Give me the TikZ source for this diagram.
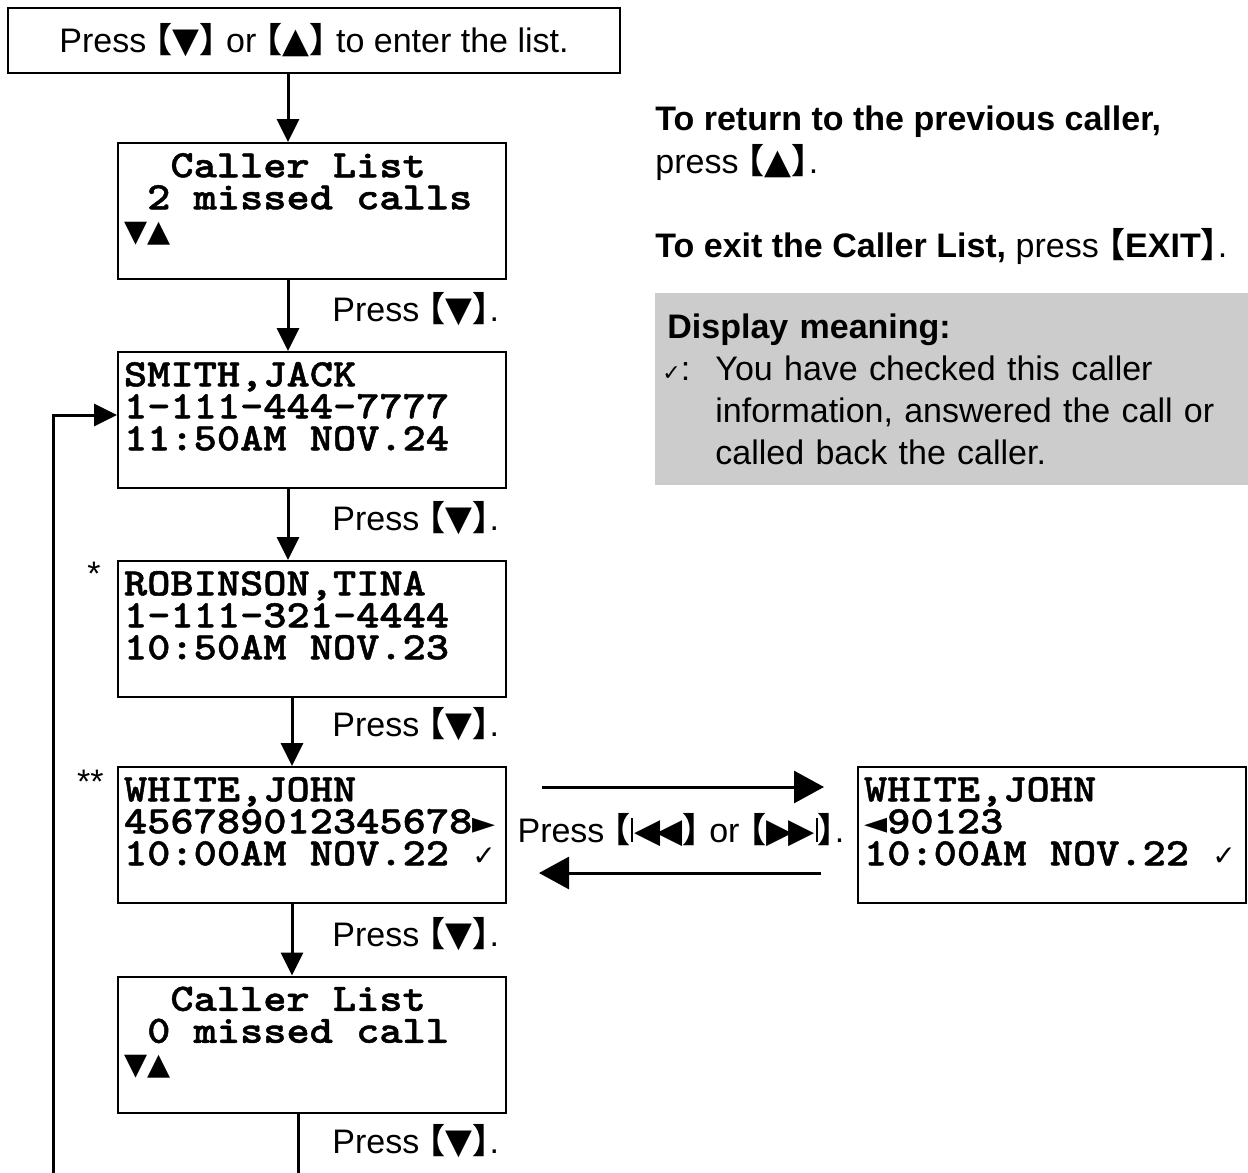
\documentclass[tikz,border=0pt]{standalone}
\usepackage{fontspec}
\setmainfont{Liberation Sans}
\newfontfamily\symfont{DejaVu Sans}
\newfontfamily\cjkfont[RawFeature=+halt]{Noto Sans CJK SC}
\newfontfamily\lcdfont[FakeStretch=1.14, FakeBold=1.2]{lmmonolt10-bold.otf}
\usetikzlibrary{positioning,arrows.meta}

% key caps and display glyphs
\newcommand{\keyb}[1]{{\cjkfont\bfseries 【}#1{\cjkfont\bfseries 】}}
\newcommand{\tri}[1]{{\symfont\fontsize{17.5}{17.5}\selectfont #1}}
\newcommand{\lcdtri}[1]{{\symfont\fontsize{15}{15}\selectfont #1}}
\newcommand{\lcdchk}{{\symfont\fontsize{14}{14}\selectfont ✓}}
\newcommand{\cell}[1]{\makebox[11.6pt][l]{#1}}
\newcommand{\lsp}{\hspace*{11.6pt}}
\newcommand{\skipbk}{{\symfont\fontsize{17}{17}\selectfont\rule[0pt]{0.07em}{0.72em}\kern0.04em◀\kern-0.12em◀}}
\newcommand{\skipfw}{{\symfont\fontsize{17}{17}\selectfont▶\kern-0.12em▶\kern0.04em\rule[0pt]{0.07em}{0.72em}}}

\tikzset{
  topbox/.style={draw, line width=1pt, minimum width=306pt, minimum height=32.5pt},
  lcdbox/.style={draw, line width=1pt, minimum width=194pt, minimum height=68pt,
                 text width=188pt, inner xsep=3pt, inner ysep=0pt, align=left,
                 font=\lcdfont\fontsize{19.4}{16}\selectfont},
  presslbl/.style={anchor=west, inner sep=0pt},
  conn/.style={line width=1.5pt, -{Triangle[length=11.5pt,width=11pt]}},
  hconn/.style={line width=1.5pt, -{Triangle[length=15pt,width=16pt]}},
  notebox/.style={fill=black!20, minimum width=296.5pt, minimum height=96pt,
                  text width=284.5pt, inner xsep=6pt, align=left,
                  font=\fontsize{17}{21}\selectfont}
}

\begin{document}
\begin{tikzpicture}[x=0.5pt, y=-0.5pt, font=\fontsize{17}{21.5}\selectfont]
\useasboundingbox (0,0) rectangle (1248,1173);

% main column
\node[topbox] (enter) at (314,40.5) {Press \keyb{\tri{▼}} or \keyb{\tri{▲}} to enter the list.};
\node[lcdbox] (menu) at (312,211) {\lsp\lsp Caller\lsp List\\\lsp 2\lsp missed\lsp calls\\\cell{\lcdtri{▼}}\cell{\lcdtri{▲}}\\[-7pt]\strut};
\node[lcdbox] (smith) at (312,420) {SMITH,JACK\\1-111-444-7777\\11:50AM\lsp NOV.24\\[-7pt]\strut};
\node[lcdbox] (robinson) at (312,629) {ROBINSON,TINA\\1-111-321-4444\\10:50AM\lsp NOV.23\\[-7pt]\strut};
\node[lcdbox] (white) at (312,835) {WHITE,JOHN\\456789012345678\cell{\lcdtri{►}}\\10:00AM\lsp NOV.22\lsp\cell{\lcdchk}\\[-7pt]\strut};
\node[lcdbox] (menu2) at (312,1044.5) {\lsp\lsp Caller\lsp List\\\lsp 0\lsp missed\lsp call\\\cell{\lcdtri{▼}}\cell{\lcdtri{▲}}\\[-7pt]\strut};

\node[anchor=north east, inner sep=0pt] (star1) at ([xshift=-8pt,yshift=-1pt]robinson.north west) {*};
\node[anchor=north east, inner sep=0pt] (star2) at ([xshift=-6.5pt,yshift=-2pt]white.north west) {**};

\draw[conn] ([xshift=-13pt]enter.south) -- ([xshift=-12pt]menu.north);
\draw[conn] ([xshift=-12pt]menu.south) -- ([xshift=-12pt]smith.north);
\draw[conn] ([xshift=-12pt]smith.south) -- ([xshift=-12pt]robinson.north);
\draw[conn] ([xshift=-10pt]robinson.south) -- ([xshift=-10pt]white.north);
\draw[conn] ([xshift=-10pt]white.south) -- ([xshift=-10pt]menu2.north);
\coordinate (loopend) at (53,1260);
\draw[conn] ([xshift=-7pt]menu2.south) |- (loopend) |- ([yshift=2.5pt]smith.west);

\node[presslbl] (press1) at (332,309) {Press \keyb{\tri{▼}}.};
\node[presslbl] (press2) at (332,518) {Press \keyb{\tri{▼}}.};
\node[presslbl] (press3) at (332,724) {Press \keyb{\tri{▼}}.};
\node[presslbl] (press4) at (332,934) {Press \keyb{\tri{▼}}.};
\node[presslbl] (press5) at (332,1141) {Press \keyb{\tri{▼}}.};

% scrolled number
\node[lcdbox] (whiteR) at (1052,835) {WHITE,JOHN\\\cell{\lcdtri{◄}}90123\\10:00AM\lsp NOV.22\lsp\cell{\lcdchk}\\[-7pt]\strut};
\draw[hconn] ([xshift=17.5pt,yshift=24pt]white.east) -- ([xshift=-16.5pt,yshift=24pt]whiteR.west);
\draw[hconn] ([xshift=-18pt,yshift=-19pt]whiteR.west) -- ([xshift=16pt,yshift=-19pt]white.east);
\node (skiplbl) at (681,830) {Press \keyb{\skipbk} or \keyb{\skipfw}.};

% notes
\node[anchor=north west, inner sep=0pt, align=left] (ret) at (655,105)
  {\textbf{To return to the previous caller,}\\press \keyb{\tri{▲}}.};
\node[anchor=base west, inner sep=0pt] (exit) at (655,257)
  {\textbf{To exit the Caller List,} press \keyb{\textbf{EXIT}}.};
\node[notebox, anchor=north west] (note) at (655,293)
  {\textbf{Display meaning:}\\
   \makebox[24pt][l]{\hspace{-2.5pt}{\symfont\fontsize{11}{11}\selectfont ✓}:}You have checked this caller\\
   \hspace*{24pt}information, answered the call or\\
   \hspace*{24pt}called back the caller.};
\end{tikzpicture}
\end{document}
